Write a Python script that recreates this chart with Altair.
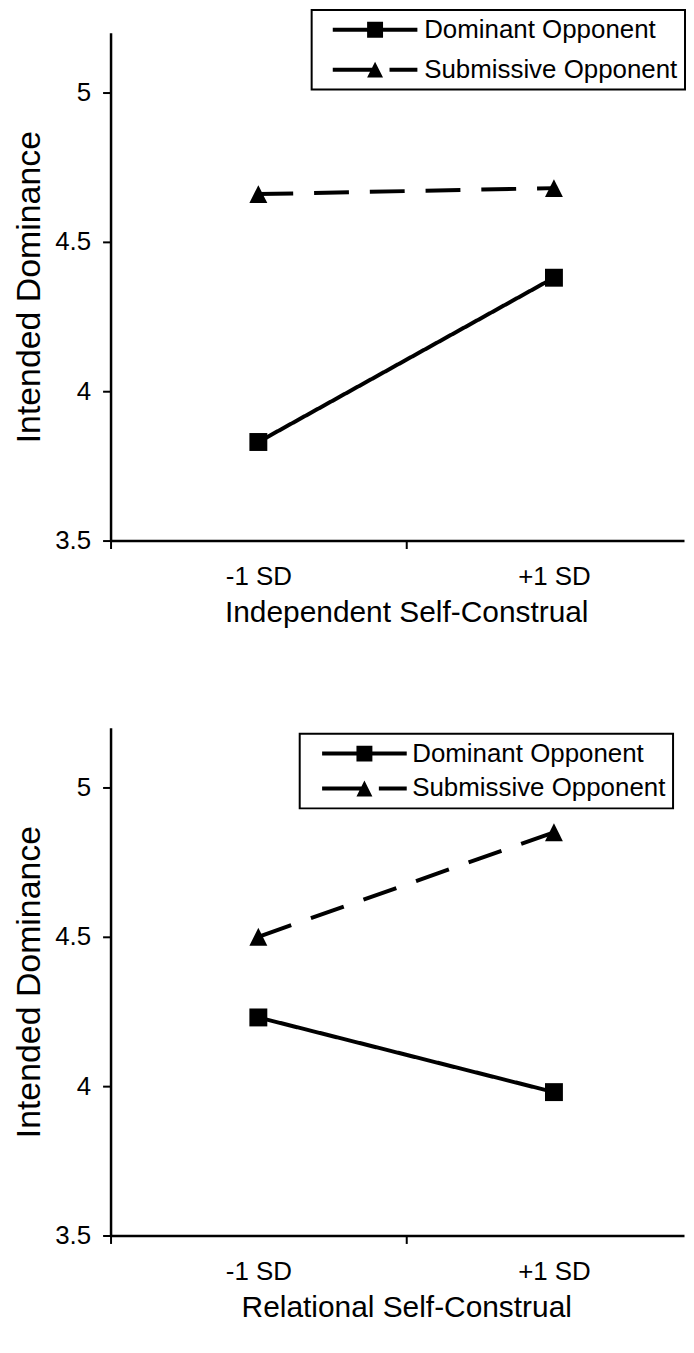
import altair as alt
import pandas as pd

# ---------------- data ----------------
groups = ["Dominant Opponent", "Submissive Opponent"]
x_labels = ["-1 SD", "+1 SD"]
x_positions = [0.5, 1.5]

p1_dominant = [3.83, 4.38]
p1_submissive = [4.66, 4.68]
p2_dominant = [4.23, 3.98]
p2_submissive = [4.50, 4.85]

x_titles = ["Independent Self-Construal", "Relational Self-Construal"]
y_title = "Intended Dominance"
y_ticks = [3.5, 4, 4.5, 5]
y_domain = [3.5, 5.2]
x_domain = [0, 1.94]
x_ticks = [0, 0.5, 1, 1.5]

FONT = "Liberation Sans"

# marker shapes (plot) and legend symbols (line + marker, all filled)
marker_shapes = ["M-1,-1H1V1H-1Z", "M-1,1L0,-1L1,1Z"]
legend_shapes = [
    "M-4.25,-0.2H4.25V0.2H-4.25Z M-0.8,-0.8H0.8V0.8H-0.8Z",
    "M-4.25,-0.2H0V0.2H-4.25Z M1.45,-0.2H4.25V0.2H1.45Z M-0.8,0.8L0,-0.8L0.8,0.8Z",
]


def make_df(dom, sub):
    rows = []
    for g, vals in zip(groups, [dom, sub]):
        for xp, lab, v in zip(x_positions, x_labels, vals):
            rows.append({"group": g, "xpos": xp, "label": lab, "value": v})
    return pd.DataFrame(rows)


label_expr = " : ".join(
    f"datum.value == {xp} ? '{lab}'" for xp, lab in zip(x_positions, x_labels)
) + " : ''"
hide_tick_test = " || ".join(f"datum.value == {xp}" for xp in x_positions)


def panel(df, x_title, legend_x, legend_y, row_pad, sym_offset, lab_offset):
    base = alt.Chart(df)
    x = alt.X(
        "xpos:Q",
        scale=alt.Scale(domain=x_domain, nice=False, zero=False),
        axis=alt.Axis(
            title=x_title,
            values=x_ticks,
            labelExpr=label_expr,
            tickOpacity={"condition": {"test": hide_tick_test, "value": 0}, "value": 1},
            labelFlush=False,
            labelOverlap=False,
            labelPadding=15,
            titlePadding=8,
            titleFontSize=30,
            titleX=297,
            grid=False,
        ),
    )
    y = alt.Y(
        "value:Q",
        scale=alt.Scale(domain=y_domain, nice=False, zero=False),
        axis=alt.Axis(
            title=y_title,
            values=y_ticks,
            format="~g",
            labelPadding=12,
            titlePadding=8,
            titleFontSize=34,
            labelOverlap=False,
            grid=False,
        ),
    )
    lines = base.mark_line(color="black", strokeWidth=4).encode(
        x=x,
        y=y,
        strokeDash=alt.StrokeDash(
            "group:N",
            scale=alt.Scale(domain=groups, range=[[1, 0], [35, 21]]),
            legend=None,
        ),
        detail="group:N",
        order="xpos:Q",
    )
    points = base.mark_point(filled=True, color="black", opacity=1, size=324).encode(
        x=x,
        y=y,
        shape=alt.Shape(
            "group:N", scale=alt.Scale(domain=groups, range=marker_shapes), legend=None
        ),
    )
    leg = base.mark_point(filled=True, color="black", size=400, clip=True, opacity=1).encode(
        x=alt.value(-500),
        y=alt.value(-500),
        shape=alt.Shape(
            "group:N",
            scale=alt.Scale(domain=groups, range=legend_shapes),
            legend=alt.Legend(
                title=None,
                orient="none",
                legendX=legend_x,
                legendY=legend_y,
                padding=7,
                rowPadding=row_pad,
                symbolOffset=sym_offset,
                labelOffset=lab_offset,
                symbolSize=400,
                symbolStrokeWidth=0,
                symbolFillColor="black",
                symbolOpacity=1,
                labelFont=FONT,
                labelFontSize=26,
                labelColor="black",
                labelLimit=400,
                strokeColor="black",
                fillColor="white",
            ),
        ),
    )
    return (
        alt.layer(lines, points, leg)
        .resolve_scale(shape="independent")
        .properties(width=576, height=510)
    )


p1 = panel(make_df(p1_dominant, p1_submissive), x_titles[0], 202, -23, 14, 43.7, 36.3)
p2 = panel(make_df(p2_dominant, p2_submissive), x_titles[1], 190, 6, 9, 45, 35)

chart = (
    alt.vconcat(p1, p2, spacing=101)
    .resolve_scale(x="independent", y="independent", shape="independent", strokeDash="independent")
    .resolve_legend(shape="independent")
    .properties(padding={"left": 4, "top": -2, "right": 0, "bottom": 0})
    .configure_view(stroke=None)
    .configure_axis(
        domainColor="black",
        domainWidth=2.5,
        tickColor="black",
        tickWidth=2,
        tickSize=8,
        labelFont=FONT,
        labelFontSize=26,
        labelColor="black",
        titleFont=FONT,
        titleFontWeight="normal",
        titleColor="black",
        grid=False,
    )
    .configure_legend(strokeWidth=2)
)

chart.save("out.html", embed_options={"renderer": "svg", "actions": False})
